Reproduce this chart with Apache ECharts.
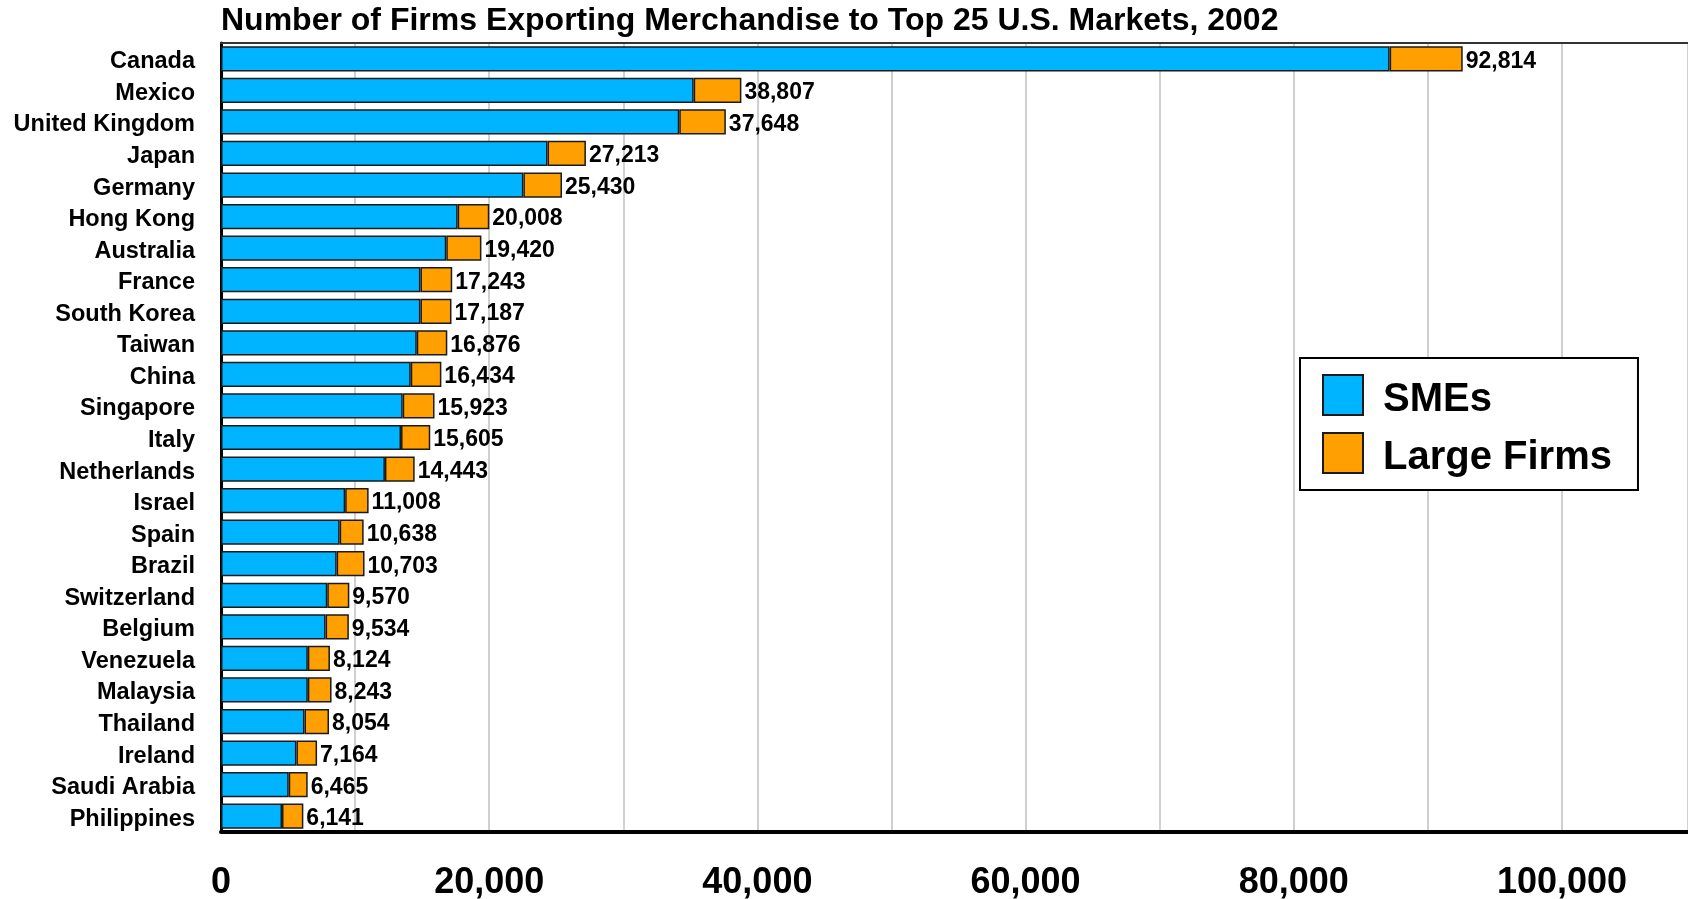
<!DOCTYPE html>
<html>
<head>
<meta charset="utf-8">
<script src="https://cdn.jsdelivr.net/npm/echarts@6/dist/echarts.min.js"></script>
<style>
  html, body { margin: 0; padding: 0; background: #ffffff; }
  #firmsChart { width: 1688px; height: 899px; }
</style>
</head>
<body>
<div id="firmsChart"></div>
<script>
// markets, top to bottom
var countries = ["Canada", "Mexico", "United Kingdom", "Japan", "Germany", "Hong Kong", "Australia",
  "France", "South Korea", "Taiwan", "China", "Singapore", "Italy", "Netherlands", "Israel", "Spain",
  "Brazil", "Switzerland", "Belgium", "Venezuela", "Malaysia", "Thailand", "Ireland", "Saudi Arabia", "Philippines"];
// SME exporters
var smeFirms = [87150, 35250, 34175, 24350, 22550, 17650, 16800, 14875, 14875, 14600, 14150, 13550, 13425,
  12225, 9260, 8850, 8625, 7925, 7800, 6475, 6475, 6225, 5625, 5050, 4550];
// large firm exporters
var largeFirms = [5450, 3557, 3473, 2863, 2880, 2358, 2620, 2368, 2312, 2276, 2284, 2373, 2180,
  2218, 1748, 1788, 2078, 1645, 1734, 1649, 1768, 1829, 1539, 1415, 1591];
// printed totals
var totalFirms = [92814, 38807, 37648, 27213, 25430, 20008, 19420, 17243, 17187, 16876, 16434, 15923, 15605,
  14443, 11008, 10638, 10703, 9570, 9534, 8124, 8243, 8054, 7164, 6465, 6141];
var xTicks = [0, 20000, 40000, 60000, 80000, 100000];

var font = "'Liberation Sans', Arial, sans-serif";
var myChart = echarts.init(document.getElementById("firmsChart"));

function fmt(v) {
  return v.toString().replace(/\B(?=(\d{3})+(?!\d))/g, ",");
}

var option = {
  animation: false,
  backgroundColor: "#ffffff",
  title: {
    text: "Number of Firms Exporting Merchandise to Top 25 U.S. Markets, 2002",
    left: 221,
    top: 5,
    padding: 0,
    textStyle: { fontFamily: font, fontSize: 32, fontWeight: "bold", color: "#000" }
  },
  legend: {
    orient: "vertical",
    left: 1300,
    top: 358,
    icon: "rect",
    itemWidth: 40,
    itemHeight: 40,
    itemGap: 12,
    padding: [16, 26, 12, 22],
    borderColor: "#000",
    borderWidth: 2,
    backgroundColor: "#fff",
    // spacer line pushes the name a little below the icon centre
    formatter: "{s| }\n{t|{name}}",
    textStyle: {
      fontFamily: font,
      fontSize: 40,
      fontWeight: "bold",
      color: "#000",
      rich: {
        s: { fontSize: 1, lineHeight: 10 },
        t: { fontFamily: font, fontSize: 40, fontWeight: "bold", color: "#000", padding: [0, 0, 0, 15] }
      }
    },
    data: ["SMEs", "Large Firms"]
  },
  grid: {
    left: 221,
    top: 43,
    right: 0,
    bottom: 67,
    outerBoundsMode: "none"
  },
  xAxis: [
    {
      type: "value",
      position: "bottom",
      min: 0,
      max: 109400,
      interval: 10000,
      axisLine: { show: true, lineStyle: { color: "#000", width: 4 } },
      axisTick: { show: false },
      splitLine: { show: true, lineStyle: { color: "#c0c0c0", width: 1.5 } },
      axisLabel: {
        margin: 33,
        fontFamily: font,
        fontSize: 36,
        fontWeight: "bold",
        color: "#000",
        formatter: function (v) {
          return xTicks.indexOf(v) >= 0 ? fmt(v) : "";
        }
      }
    },
    {
      // top border of the plot
      type: "value",
      position: "top",
      min: 0,
      max: 109400,
      axisLine: { show: true, lineStyle: { color: "#333", width: 2 } },
      axisTick: { show: false },
      axisLabel: { show: false },
      splitLine: { show: false }
    }
  ],
  yAxis: {
    type: "category",
    inverse: true,
    data: countries,
    axisLine: { show: true, lineStyle: { color: "#000", width: 3 } },
    axisTick: { show: false },
    axisLabel: {
      margin: 26,
      verticalAlign: "top",
      lineHeight: 6,
      fontFamily: font,
      fontSize: 23.5,
      fontWeight: "bold",
      color: "#000"
    }
  },
  series: [
    {
      name: "SMEs",
      type: "bar",
      stack: "firms",
      barCategoryGap: "20%",
      itemStyle: { color: "#00b4ff", borderColor: "#1a1a1a", borderWidth: 1.5 },
      data: smeFirms
    },
    {
      name: "Large Firms",
      type: "bar",
      stack: "firms",
      barCategoryGap: "20%",
      itemStyle: { color: "#ffa000", borderColor: "#1a1a1a", borderWidth: 1.5 },
      label: {
        show: true,
        position: "right",
        distance: 3,
        verticalAlign: "top",
        lineHeight: 5,
        fontFamily: font,
        fontSize: 23,
        fontWeight: "bold",
        color: "#000",
        formatter: function (p) {
          return fmt(totalFirms[p.dataIndex]);
        }
      },
      data: largeFirms
    }
  ]
};

myChart.setOption(option);
window.addEventListener("resize", function () {
  myChart.resize();
});
</script>
</body>
</html>
